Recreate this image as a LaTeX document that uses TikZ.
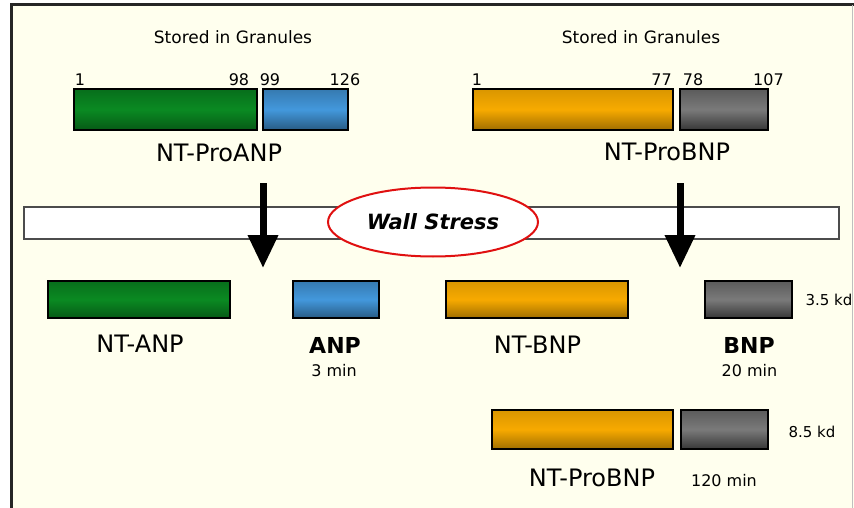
\documentclass[tikz,border=0pt]{standalone}
\usepackage{fontspec}
\setmainfont{DejaVu Sans}
\usepackage{tikz}
\usetikzlibrary{arrows.meta,positioning,shapes.geometric}
\definecolor{cream}{HTML}{FFFFEE}
\definecolor{anpgreen}{HTML}{0A8A22}
\definecolor{anpblue}{HTML}{4398DC}
\definecolor{bnporange}{HTML}{F7AA00}
\definecolor{bnpgray}{HTML}{7A7A7A}
\definecolor{stressred}{HTML}{E01010}

\begin{document}
\begin{tikzpicture}[x=1pt,y=-1pt,>=Stealth,
  bar/.style={draw=black,line width=1.8pt,inner sep=0pt},
  greenbar/.style={bar,top color=anpgreen!80!black,bottom color=anpgreen!65!black,middle color=anpgreen},
  bluebar/.style={bar,top color=anpblue!80!black,bottom color=anpblue!60!black,middle color=anpblue},
  orangebar/.style={bar,top color=bnporange!88!black,bottom color=bnporange!65!black,middle color=bnporange},
  graybar/.style={bar,top color=bnpgray!75!black,bottom color=bnpgray!45!black,middle color=bnpgray},
  toprow/.style={minimum height=41pt},
  midrow/.style={minimum height=37pt},
  lowrow/.style={minimum height=39pt},
  peptide/.style={inner sep=0pt,font=\fontsize{24}{28}\selectfont},
  hormone/.style={inner sep=0pt,font=\fontsize{22}{26}\selectfont\bfseries},
  halflife/.style={inner sep=0pt,font=\fontsize{16}{19}\selectfont},
  residue/.style={inner sep=0pt,font=\fontsize{16}{19}\selectfont},
  note/.style={inner sep=0pt,font=\fontsize{17}{20}\selectfont},
  bigarrow/.style={line width=7pt,-{Triangle[width=29pt,length=33pt]}}]
  \useasboundingbox (0,0) rectangle (854,508);
  % frame
  \fill[cream] (11,5) rectangle (854,508);
  \draw[black!85,line width=3pt] (11,508) -- (11,5) -- (854,5);
  \draw[black!25,line width=1pt] (852,5) -- (852,508);

  % stored precursors
  \node[note] (storedA) at (233,37) {Stored in Granules};
  \node[note] (storedB) at (641,37) {Stored in Granules};
  \node[bar,greenbar,toprow,minimum width=183pt] (proNTA) at (165.5,109.5) {};
  \node[bar,bluebar,toprow,minimum width=85pt] (proA) at (305.5,109.5) {};
  \node[bar,orangebar,toprow,minimum width=200pt] (proNTB) at (573,109.5) {};
  \node[bar,graybar,toprow,minimum width=88pt] (proB) at (724,109.5) {};
  \node[residue] (rA1) at (80,80) {1};
  \node[residue] (rA98) at (239,80) {98};
  \node[residue] (rA99) at (270,80) {99};
  \node[residue] (rA126) at (345,80) {126};
  \node[residue] (rB1) at (477,80) {1};
  \node[residue] (rB77) at (661.5,80) {77};
  \node[residue] (rB78) at (693,80) {78};
  \node[residue] (rB107) at (768.5,80) {107};
  \node[peptide] (lblProA) at (219,153) {NT-ProANP};
  \node[peptide] (lblProB) at (667,152) {NT-ProBNP};

  % wall stress
  \node[draw=black!70,fill=white,line width=1.5pt,minimum width=815pt,minimum height=32pt,inner sep=0pt] (wall) at (431.5,223) {};
  \node[ellipse,draw=stressred,fill=white,line width=2pt,minimum width=210pt,minimum height=69pt,inner sep=0pt,
        font=\fontsize{21}{25}\selectfont\bfseries\itshape] (stress) at (433,222) {Wall Stress};

  % cleavage arrows
  \coordinate (cutA) at (263,183);
  \coordinate (tipA) at (263,268);
  \coordinate (cutB) at (680,183);
  \coordinate (tipB) at (680,268);
  \draw[bigarrow] (cutA) -- (tipA);
  \draw[bigarrow] (cutB) -- (tipB);

  % cleaved products
  \node[bar,greenbar,midrow,minimum width=182pt] (ntANP) at (139,299.5) {};
  \node[bar,bluebar,midrow,minimum width=86pt] (ANP) at (336,299.5) {};
  \node[bar,orangebar,midrow,minimum width=182pt] (ntBNP) at (537,299.5) {};
  \node[bar,graybar,midrow,minimum width=87pt] (BNP) at (748.5,299.5) {};
  \node[note,font=\fontsize{15}{18}\selectfont] (kdBNP) at (829,300) {3.5 kd};
  \node[peptide] (lblntANP) at (140,344) {NT-ANP};
  \node[hormone] (lblANP) at (335,345) {ANP};
  \node[halflife] (tANP) at (334,371) {3 min};
  \node[peptide] (lblntBNP) at (537.5,345) {NT-BNP};
  \node[hormone] (lblBNP) at (749,345) {BNP};
  \node[halflife] (tBNP) at (749.5,371) {20 min};

  % circulating precursor
  \node[bar,orangebar,lowrow,minimum width=181pt] (cirNTB) at (582.5,429.5) {};
  \node[bar,graybar,lowrow,minimum width=87pt] (cirB) at (724.5,429.5) {};
  \node[note,font=\fontsize{15}{18}\selectfont] (kdProB) at (812,432) {8.5 kd};
  \node[peptide] (lblcirB) at (592,477.5) {NT-ProBNP};
  \node[halflife] (tProB) at (724,481) {120 min};
\end{tikzpicture}
\end{document}
